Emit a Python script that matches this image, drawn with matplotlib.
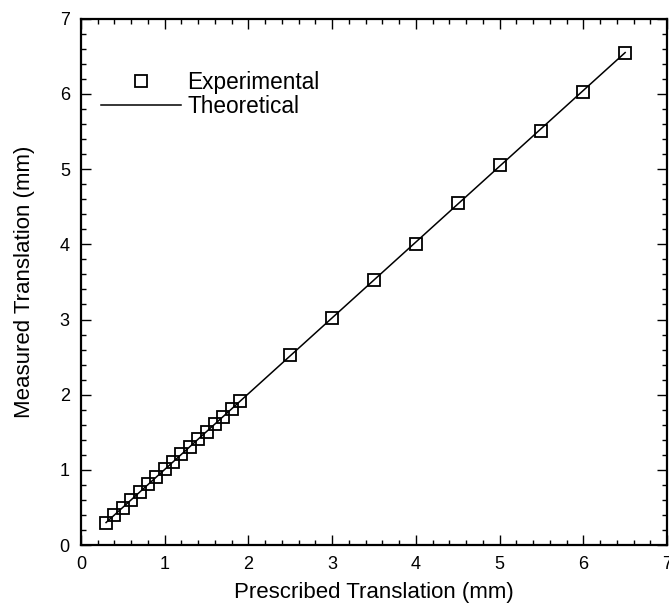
import matplotlib
matplotlib.use("Agg")
import matplotlib.pyplot as plt
from matplotlib.ticker import MultipleLocator

plt.rcParams['font.family'] = ['Liberation Sans', 'DejaVu Sans']

# Prescribed vs measured translation (mm)
prescribed = [0.3, 0.4, 0.5, 0.6, 0.7, 0.8, 0.9, 1.0, 1.1, 1.2, 1.3, 1.4,
              1.5, 1.6, 1.7, 1.8, 1.9, 2.5, 3.0, 3.5, 4.0, 4.5, 5.0, 5.5,
              6.0, 6.5]
measured = [0.30, 0.40, 0.50, 0.60, 0.70, 0.81, 0.91, 1.01, 1.11, 1.21,
            1.31, 1.41, 1.51, 1.61, 1.71, 1.81, 1.92, 2.53, 3.02, 3.52,
            4.01, 4.55, 5.05, 5.51, 6.03, 6.55]

# Theoretical response line
theory_x = [0.3, 6.5]
theory_y = [0.30, 6.55]

fig = plt.figure(figsize=(6.69, 6.05), dpi=100)
ax = fig.add_axes([0.121, 0.099, 0.876, 0.870])

ax.plot(prescribed, measured, linestyle='none', marker='s', markersize=8.8,
        markerfacecolor='none', markeredgecolor='black', markeredgewidth=1.3,
        label='Experimental')
ax.plot(theory_x, theory_y, color='black', linewidth=1.1, label='Theoretical')

ax.set_xlim(0, 7)
ax.set_ylim(0, 7)
ax.xaxis.set_major_locator(MultipleLocator(1))
ax.yaxis.set_major_locator(MultipleLocator(1))
ax.xaxis.set_minor_locator(MultipleLocator(0.2))
ax.yaxis.set_minor_locator(MultipleLocator(0.2))
ax.tick_params(which='both', direction='in', top=True, right=True,
               width=1.0, labelsize=13)
ax.tick_params(which='major', length=7, pad=8)
ax.tick_params(which='minor', length=3.5)
for sp in ax.spines.values():
    sp.set_linewidth(1.6)

ax.set_xlabel('Prescribed Translation (mm)', fontsize=16, labelpad=6)
ax.set_ylabel('Measured Translation (mm)', fontsize=16, labelpad=18)

ax.legend(loc='upper left', bbox_to_anchor=(0.035, 0.90), frameon=False,
          fontsize=16.3, handlelength=3.5, handletextpad=0.3,
          labelspacing=0.03, borderpad=0, borderaxespad=0)

fig.savefig('out.png', dpi=100)
